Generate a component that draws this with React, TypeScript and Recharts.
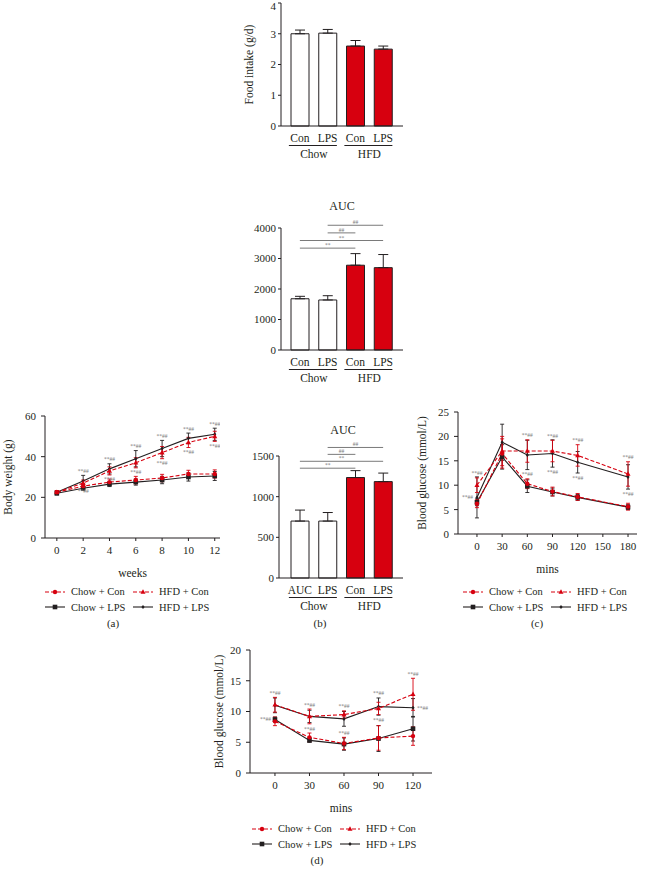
import { Bar, BarChart, Cell, ErrorBar, Line, LineChart, ReferenceLine, XAxis, YAxis } from "recharts";

const FONT = '"Liberation Serif", "Times New Roman", serif';
const INK = "#231f20";
const RED = "#d7000f";
const NOTE = "#7a7a7a";

// ---- bar panels ----
const barIds = ["chowCon", "chowLps", "hfdCon", "hfdLps"];
const barLabels = ["Con", "LPS", "Con", "LPS"];
const barLabelsB = ["AUC", "LPS", "Con", "LPS"];
const dietGroups = ["Chow", "HFD"];

const foodIntake = [3.0, 3.02, 2.6, 2.5];
const foodIntakeSem = [0.12, 0.12, 0.18, 0.1];

const ogttAuc = [1680, 1640, 2780, 2700];
const ogttAucSem = [80, 140, 380, 430];

const ittAuc = [700, 700, 1235, 1185];
const ittAucSem = [135, 105, 85, 105];

// from, to, mark (lowest bracket first)
const aucComparisons: [string, string, string][] = [
  ["chowCon", "hfdCon", "**"],
  ["chowCon", "hfdLps", "**"],
  ["chowLps", "hfdCon", "##"],
  ["chowLps", "hfdLps", "##"],
];

// ---- time courses ----
const seriesKeys = ["chowCon", "hfdCon", "chowLps", "hfdLps"];
const seriesNames = ["Chow + Con", "HFD + Con", "Chow + LPS", "HFD + LPS"];

const weeks = [0, 2, 4, 6, 8, 10, 12];
const bwChowCon = [22.5, 25.5, 27.5, 28.5, 29.5, 31.5, 31.5];
const bwChowConSem = [0.8, 1.2, 1.5, 1.8, 1.8, 1.8, 2.0];
const bwHfdCon = [22.5, 27, 33, 37, 42, 47, 50];
const bwHfdConSem = [0.8, 1.5, 2, 2.5, 3, 2.5, 2.5];
const bwChowLps = [22, 24.5, 26.5, 27.5, 28.5, 30, 30.5];
const bwChowLpsSem = [0.8, 1, 1.2, 1.5, 1.8, 2, 2.2];
const bwHfdLps = [22.5, 28, 34, 39, 44, 49, 51];
const bwHfdLpsSem = [0.8, 2.8, 2.5, 4, 4, 2.6, 3];

const ogttMins = [0, 30, 60, 90, 120, 180];
const ogChowCon = [6.2, 16.5, 10.3, 8.7, 7.6, 5.6];
const ogChowConSem = [0.8, 3, 1, 0.9, 0.7, 0.7];
const ogHfdCon = [10.0, 17.0, 17.0, 17.0, 16.1, 12.3];
const ogHfdConSem = [1.5, 3, 2.3, 2.2, 2.2, 2.5];
const ogChowLps = [6.5, 15.8, 9.8, 8.6, 7.5, 5.5];
const ogChowLpsSem = [0.7, 2.5, 1.3, 0.8, 0.6, 0.5];
const ogHfdLps = [7.5, 18.8, 16.2, 16.5, 14.7, 11.7];
const ogHfdLpsSem = [4.2, 3.7, 3, 2.8, 2.2, 2.5];

const ittMins = [0, 30, 60, 90, 120];
const itChowCon = [8.4, 5.8, 4.8, 5.7, 6.0];
const itChowConSem = [0.7, 0.7, 1.0, 2.0, 1.5];
const itHfdCon = [11.1, 9.2, 9.5, 10.5, 12.8];
const itHfdConSem = [1.2, 1.2, 0.6, 1.0, 2.6];
const itChowLps = [8.7, 5.3, 4.7, 5.6, 7.2];
const itChowLpsSem = [0.4, 0.3, 1.0, 2.1, 2.0];
const itHfdLps = [11.0, 9.2, 8.8, 10.8, 10.6];
const itHfdLpsSem = [1.2, 1.0, 1.2, 1.4, 1.5];

// significance marks next to points
type Side = "above" | "below" | "left" | "right";
type Note = { key: string; side: Side; marks: string[] };

const S = "**##";
const bwNotes: Note[] = [
  { key: "hfdLps", side: "above", marks: ["", S, S, S, S, S, S] },
  { key: "hfdCon", side: "below", marks: ["", S, S, S, S, S, S] },
];
const ogttNotes: Note[] = [
  { key: "hfdCon", side: "above", marks: [S, "", S, S, S, S] },
  { key: "hfdLps", side: "below", marks: ["", "", S, S, S, S] },
  { key: "hfdLps", side: "left", marks: [S, "", "", "", "", ""] },
];
const ittNotes: Note[] = [
  { key: "hfdCon", side: "above", marks: [S, S, S, "", S] },
  { key: "hfdLps", side: "above", marks: ["", "", "", S, ""] },
  { key: "hfdLps", side: "below", marks: ["", "", "", S, ""] },
  { key: "hfdLps", side: "right", marks: ["", "", "", "", S] },
  { key: "chowCon", side: "above", marks: ["", S, S, "", ""] },
  { key: "chowLps", side: "left", marks: [S, "", "", "", ""] },
];

function buildTable(xs: number[], series: Record<string, number[][]>) {
  return xs.map((x, i) => {
    const row: Record<string, number> = { x };
    for (const k of Object.keys(series)) {
      row[k] = series[k][0][i];
      row[k + "Err"] = series[k][1][i];
    }
    return row;
  });
}

const bwData = buildTable(weeks, {
  chowCon: [bwChowCon, bwChowConSem],
  hfdCon: [bwHfdCon, bwHfdConSem],
  chowLps: [bwChowLps, bwChowLpsSem],
  hfdLps: [bwHfdLps, bwHfdLpsSem],
});
const ogttData = buildTable(ogttMins, {
  chowCon: [ogChowCon, ogChowConSem],
  hfdCon: [ogHfdCon, ogHfdConSem],
  chowLps: [ogChowLps, ogChowLpsSem],
  hfdLps: [ogHfdLps, ogHfdLpsSem],
});
const ittData = buildTable(ittMins, {
  chowCon: [itChowCon, itChowConSem],
  hfdCon: [itHfdCon, itHfdConSem],
  chowLps: [itChowLps, itChowLpsSem],
  hfdLps: [itHfdLps, itHfdLpsSem],
});

const barTable = (means: number[], sems: number[]) =>
  barIds.map((id, i) => ({ id, mean: means[i], err: [0, sems[i]] }));

const seriesStyle: Record<string, { color: string; dash?: string; shape: string }> = {
  chowCon: { color: RED, dash: "4 2", shape: "circle" },
  hfdCon: { color: RED, dash: "4 2", shape: "triangle" },
  chowLps: { color: INK, shape: "square" },
  hfdLps: { color: INK, shape: "diamond" },
};

function Marker({ cx, cy, shape, color }: any) {
  if (shape === "circle") return <circle cx={cx} cy={cy} r={2.2} fill={color} />;
  if (shape === "triangle")
    return <polygon points={`${cx},${cy - 2.8} ${cx + 2.5},${cy + 1.8} ${cx - 2.5},${cy + 1.8}`} fill={color} />;
  if (shape === "square") return <rect x={cx - 2.3} y={cy - 2.3} width={4.6} height={4.6} fill={color} />;
  return <polygon points={`${cx},${cy - 2} ${cx + 1.6},${cy} ${cx},${cy + 2} ${cx - 1.6},${cy}`} fill={color} />;
}

const tickFont = { fill: INK, fontSize: 11, fontFamily: FONT };
const labelFont = { fill: INK, fontSize: 11.5, fontFamily: FONT };

function seriesLines() {
  return ["chowLps", "hfdLps", "chowCon", "hfdCon"].map((k) => {
    const s = seriesStyle[k];
    return (
      <Line
        key={k}
        type="linear"
        dataKey={k}
        stroke={s.color}
        strokeWidth={1.1}
        strokeDasharray={s.dash}
        dot={(p: any) => <Marker key={k + p.index} cx={p.cx} cy={p.cy} shape={s.shape} color={s.color} />}
        activeDot={false}
        isAnimationActive={false}
      >
        <ErrorBar dataKey={k + "Err"} width={2} stroke={s.color} strokeWidth={0.9} direction="y" />
      </Line>
    );
  });
}

function noteLines(notes: Note[]) {
  return notes.map((n, j) => {
    const dk =
      n.side === "above"
        ? (d: any) => d[n.key] + d[n.key + "Err"]
        : n.side === "below"
        ? (d: any) => d[n.key] - d[n.key + "Err"]
        : n.key;
    return (
      <Line
        key={"note" + j}
        dataKey={dk}
        stroke="none"
        activeDot={false}
        legendType="none"
        isAnimationActive={false}
        dot={(p: any) => {
          const t = n.marks[p.index];
          if (!t) return <g key={j + "-" + p.index} />;
          let dx = 0;
          let dy = 0;
          let anchor = "middle";
          if (n.side === "above") dy = -2.5;
          if (n.side === "below") dy = 6.5;
          if (n.side === "left") { dx = -4; dy = 2; anchor = "end"; }
          if (n.side === "right") { dx = 4; dy = 2; anchor = "start"; }
          return (
            <text key={j + "-" + p.index} x={p.cx + dx} y={p.cy + dy} fontSize={5.5} fill={NOTE} textAnchor={anchor} fontFamily={FONT}>
              {t}
            </text>
          );
        }}
      />
    );
  });
}

function TimeCourse({ data, box, margin, yWidth, xDomain, xTicks, xLabel, yDomain, yTicks, yLabel, yLabelOffset, notes }: any) {
  return (
    <div style={{ position: "absolute", left: box[0], top: box[1] }}>
      <LineChart width={box[2]} height={box[3]} data={data} margin={margin}>
        <XAxis
          type="number"
          dataKey="x"
          domain={xDomain}
          ticks={xTicks}
          allowDataOverflow
          axisLine={{ stroke: INK }}
          tickLine={{ stroke: INK }}
          tickSize={3}
          tickMargin={5}
          tick={tickFont}
          height={40}
          label={{ value: xLabel, position: "insideBottom", offset: 1, ...labelFont }}
        />
        <YAxis
          domain={yDomain}
          ticks={yTicks}
          width={yWidth}
          axisLine={{ stroke: INK }}
          tickLine={{ stroke: INK }}
          tickSize={4}
          tickMargin={5}
          tick={tickFont}
          label={{ value: yLabel, angle: -90, position: "insideLeft", offset: yLabelOffset, style: { textAnchor: "middle" }, ...labelFont }}
        />
        {seriesLines()}
        {noteLines(notes)}
      </LineChart>
    </div>
  );
}

function GroupBars({ data, labels, box, margin, padding, domain, ticks, yLabel, bracketBase, bracketStep }: any) {
  return (
    <div style={{ position: "absolute", left: box[0], top: box[1] }}>
      <BarChart width={box[2]} height={box[3]} data={data} margin={margin}>
        <XAxis
          dataKey="id"
          padding={padding}
          axisLine={{ stroke: INK }}
          tickLine={false}
          tickSize={0}
          tickMargin={0}
          height={36}
          interval={0}
          tick={(p: any) => (
            <g key={p.index}>
              <text x={p.x} y={p.y + 15.5} textAnchor="middle" {...labelFont}>
                {labels[p.index]}
              </text>
              {p.index % 2 === 0 && (
                <g>
                  <line x1={p.x - 11} x2={p.x + 37} y1={p.y + 19.5} y2={p.y + 19.5} stroke={INK} strokeWidth={1} />
                  <text x={p.x + 14} y={p.y + 32} textAnchor="middle" {...labelFont}>
                    {dietGroups[p.index / 2]}
                  </text>
                </g>
              )}
            </g>
          )}
        />
        <YAxis
          domain={domain}
          ticks={ticks}
          width={40}
          axisLine={{ stroke: INK }}
          tickLine={{ stroke: INK }}
          tickSize={3}
          tickMargin={2}
          tick={tickFont}
          label={
            yLabel
              ? { value: yLabel, angle: -90, position: "insideLeft", offset: 8, style: { textAnchor: "middle" }, ...labelFont }
              : undefined
          }
        />
        <Bar dataKey="mean" barSize={18} stroke={INK} strokeWidth={1} isAnimationActive={false}>
          {data.map((d: any, i: number) => (
            <Cell key={d.id} fill={i < 2 ? "#ffffff" : RED} />
          ))}
          <ErrorBar dataKey="err" width={5} stroke={INK} strokeWidth={1} direction="y" />
        </Bar>
        {bracketBase !== undefined &&
          aucComparisons.map(([from, to, mark], i) => (
            <ReferenceLine
              key={from + to}
              segment={[
                { x: from, y: bracketBase + i * bracketStep },
                { x: to, y: bracketBase + i * bracketStep },
              ]}
              ifOverflow="visible"
              stroke={NOTE}
              strokeWidth={1}
              label={{ value: mark, position: "top", offset: 1, fontSize: 5.5, fill: NOTE, fontFamily: FONT }}
            />
          ))}
      </BarChart>
    </div>
  );
}

function LegendBlock({ left, top }: { left: number; top: number }) {
  return (
    <div
      style={{
        position: "absolute",
        left,
        top,
        display: "grid",
        gridTemplateColumns: "88px auto",
        gridAutoRows: "15.5px",
        fontSize: 10.5,
        fontFamily: FONT,
        color: INK,
        whiteSpace: "nowrap",
      }}
    >
      {seriesKeys.map((k, i) => {
        const s = seriesStyle[k];
        return (
          <div key={k} style={{ display: "flex", alignItems: "center" }}>
            <svg width={20} height={10} style={{ marginRight: 6 }}>
              <line x1={0} x2={20} y1={5} y2={5} stroke={s.color} strokeWidth={1.1} strokeDasharray={s.dash} />
              <Marker cx={10} cy={5} shape={s.shape} color={s.color} />
            </svg>
            <span>{seriesNames[i]}</span>
          </div>
        );
      })}
    </div>
  );
}

function Caption({ x, y, text, size = 11 }: { x: number; y: number; text: string; size?: number }) {
  return (
    <div
      style={{
        position: "absolute",
        left: x,
        top: y,
        transform: "translate(-50%, -50%)",
        fontSize: size,
        fontFamily: FONT,
        color: INK,
        whiteSpace: "nowrap",
        lineHeight: 1,
      }}
    >
      {text}
    </div>
  );
}

export default function App() {
  return (
    <div style={{ position: "absolute", left: 0, top: 0, width: 646, height: 871, background: "#fff", overflow: "hidden" }}>
      <GroupBars
        data={barTable(foodIntake, foodIntakeSem)}
        labels={barLabels}
        box={[230, 0, 180, 165]}
        margin={{ top: 3, right: 7, left: 11, bottom: 3 }}
        padding={{ left: 5, right: 6 }}
        domain={[0, 4]}
        ticks={[0, 1, 2, 3, 4]}
        yLabel="Food intake (g/d)"
      />

      <Caption x={342} y={206} text="AUC" size={12} />
      <GroupBars
        data={barTable(ogttAuc, ogttAucSem)}
        labels={barLabels}
        box={[230, 195, 180, 195]}
        margin={{ top: 33, right: 7, left: 11, bottom: 4 }}
        padding={{ left: 5, right: 6 }}
        domain={[0, 4000]}
        ticks={[0, 1000, 2000, 3000, 4000]}
        bracketBase={3340}
        bracketStep={250}
      />

      <TimeCourse
        data={bwData}
        box={[0, 400, 225, 180]}
        margin={{ top: 16, right: 5, left: 2, bottom: 2 }}
        yWidth={43}
        xDomain={[-0.9, 12.4]}
        xTicks={[0, 2, 4, 6, 8, 10, 12]}
        xLabel="weeks"
        yDomain={[0, 60]}
        yTicks={[0, 20, 40, 60]}
        yLabel="Body weight (g)"
        yLabelOffset={6}
        notes={bwNotes}
      />
      <LegendBlock left={45} top={584} />
      <Caption x={113} y={623} text="(a)" />

      <Caption x={343} y={430} text="AUC" size={12} />
      <GroupBars
        data={barTable(ittAuc, ittAucSem)}
        labels={barLabelsB}
        box={[230, 425, 180, 200]}
        margin={{ top: 31, right: 7, left: 9, bottom: 11 }}
        padding={{ left: 7, right: 6 }}
        domain={[0, 1500]}
        ticks={[0, 500, 1000, 1500]}
        bracketBase={1350}
        bracketStep={85}
      />
      <Caption x={320} y={623} text="(b)" />

      <TimeCourse
        data={ogttData}
        box={[408, 395, 238, 185]}
        margin={{ top: 17, right: 9, left: 12, bottom: 6 }}
        yWidth={38}
        xDomain={[-22.6, 190.7]}
        xTicks={[0, 30, 60, 90, 120, 150, 180]}
        xLabel="mins"
        yDomain={[0, 25]}
        yTicks={[0, 5, 10, 15, 20, 25]}
        yLabel="Blood glucose (mmol/L)"
        yLabelOffset={2}
        notes={ogttNotes}
      />
      <LegendBlock left={463} top={584} />
      <Caption x={537} y={623} text="(c)" />

      <TimeCourse
        data={ittData}
        box={[203, 635, 237, 183]}
        margin={{ top: 15, right: 8, left: 12, bottom: 5 }}
        yWidth={35}
        xDomain={[-21.7, 136.5]}
        xTicks={[0, 30, 60, 90, 120]}
        xLabel="mins"
        yDomain={[0, 20]}
        yTicks={[0, 5, 10, 15, 20]}
        yLabel="Blood glucose (mmol/L)"
        yLabelOffset={4}
        notes={ittNotes}
      />
      <LegendBlock left={252} top={821} />
      <Caption x={317} y={860} text="(d)" />
    </div>
  );
}
